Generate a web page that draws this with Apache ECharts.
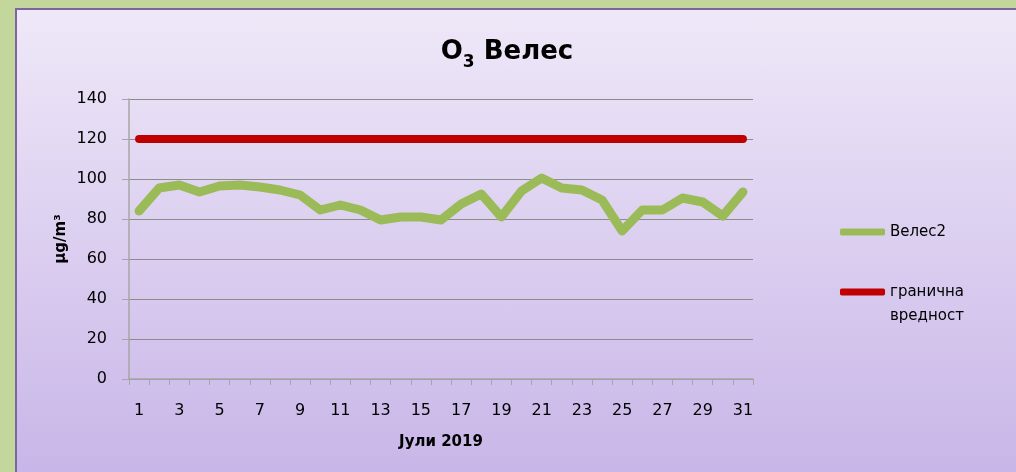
<!DOCTYPE html>
<html>
<head>
<meta charset="utf-8">
<script src="https://cdn.jsdelivr.net/npm/echarts@6/dist/echarts.min.js"></script>
<style>
  html, body { margin: 0; padding: 0; background: #c3d69b; }
  #panel {
    position: absolute; left: 15px; top: 8px; width: 1001px; height: 464px;
    border-left: 2px solid #8064a2; border-top: 2px solid #8064a2;
    box-sizing: border-box;
    background: linear-gradient(to bottom, #efe8f8 0%, #c8b6e8 100%);
  }
  #chart { position: absolute; left: 0; top: 0; width: 1016px; height: 472px; }
</style>
</head>
<body>
<div id="panel"></div>
<div id="chart"></div>
<script>
// дни во јули
const days = ['1','2','3','4','5','6','7','8','9','10','11','12','13','14','15','16',
  '17','18','19','20','21','22','23','24','25','26','27','28','29','30','31'];
// O3 Велес2, µg/m3
const veles2 = [84, 95.5, 97, 93.5, 96.5, 97, 96, 94.5, 92, 84.5, 87, 84.5, 79.5, 81, 81, 79.5,
  87.5, 92.5, 81, 94, 100.5, 95.5, 94.5, 89.5, 74, 84.5, 84.5, 90.5, 88.5, 81.5, 93.5];
// гранична вредност
const limit = [120, 120, 120, 120, 120, 120, 120, 120, 120, 120, 120, 120, 120, 120, 120, 120,
  120, 120, 120, 120, 120, 120, 120, 120, 120, 120, 120, 120, 120, 120, 120];
const yTicks = [0, 20, 40, 60, 80, 100, 120, 140];

const font = 'DejaVu Sans';
const legendBase = {
  orient: 'vertical',
  left: 835,
  itemWidth: 45,
  itemHeight: 7,
  icon: 'roundRect',
  textStyle: { fontFamily: font, fontSize: 15, color: '#000', lineHeight: 24 }
};
let myChart = echarts.init(document.getElementById('chart'));
let option = {
  backgroundColor: 'transparent',
  textStyle: { fontFamily: font, color: '#000' },
  title: {
    text: '{a|O}{s|3}{a| Велес}',
    left: 502,
    textAlign: 'center',
    top: 28,
    textStyle: {
      rich: {
        a: { fontFamily: font, fontSize: 26, fontWeight: 'bold', color: '#000', verticalAlign: 'bottom', lineHeight: 32 },
        s: { fontFamily: font, fontSize: 17, fontWeight: 'bold', color: '#000', verticalAlign: 'bottom', lineHeight: 24, padding: [0, 0, -6, 0] }
      }
    }
  },
  grid: { left: 129, right: 263, top: 99, bottom: 93 },
  legend: [
    Object.assign({}, legendBase, { top: 215, data: ['Велес2'] }),
    // празен ред горе за да првиот ред биде до линијата
    Object.assign({}, legendBase, {
      top: 251,
      data: ['гранична\nвредност'],
      formatter: function (name) { return '\n' + name; }
    })
  ],
  xAxis: {
    type: 'category',
    data: days,
    boundaryGap: true,
    name: 'Јули 2019',
    nameLocation: 'middle',
    nameGap: 56,
    nameTextStyle: { fontFamily: font, fontSize: 15, fontWeight: 'bold', color: '#000' },
    axisLine: { lineStyle: { color: '#a6a6a6', width: 1.5 } },
    axisTick: { show: true, length: 6, interval: 0, alignWithLabel: false, lineStyle: { color: '#a6a6a6' } },
    axisLabel: { interval: 1, margin: 24, fontFamily: font, fontSize: 16, color: '#000' },
    splitLine: { show: false }
  },
  yAxis: {
    type: 'value',
    min: yTicks[0],
    max: yTicks[yTicks.length - 1],
    interval: 20,
    name: 'μg/m³',
    nameLocation: 'middle',
    nameGap: 60,
    nameMoveOverlap: false,
    nameRotate: 90,
    nameTextStyle: { fontFamily: font, fontSize: 15, fontWeight: 'bold', color: '#000' },
    axisLine: { show: true, lineStyle: { color: '#a6a6a6', width: 1.5 } },
    axisTick: { show: true, length: 7, lineStyle: { color: '#a6a6a6' } },
    axisLabel: { margin: 22, fontFamily: font, fontSize: 16, color: '#000' },
    splitLine: { lineStyle: { color: '#8c8c8c', width: 1.2 } }
  },
  series: [
    {
      name: 'Велес2',
      type: 'line',
      data: veles2,
      symbol: 'none',
      color: '#9bbb59',
      lineStyle: { color: '#9bbb59', width: 9, cap: 'round', join: 'round' },
      z: 3
    },
    {
      name: 'гранична\nвредност',
      type: 'line',
      data: limit,
      symbol: 'none',
      color: '#c00000',
      lineStyle: { color: '#c00000', width: 8, cap: 'round', join: 'round' },
      z: 2
    }
  ]
};
myChart.setOption(option);
</script>
</body>
</html>
